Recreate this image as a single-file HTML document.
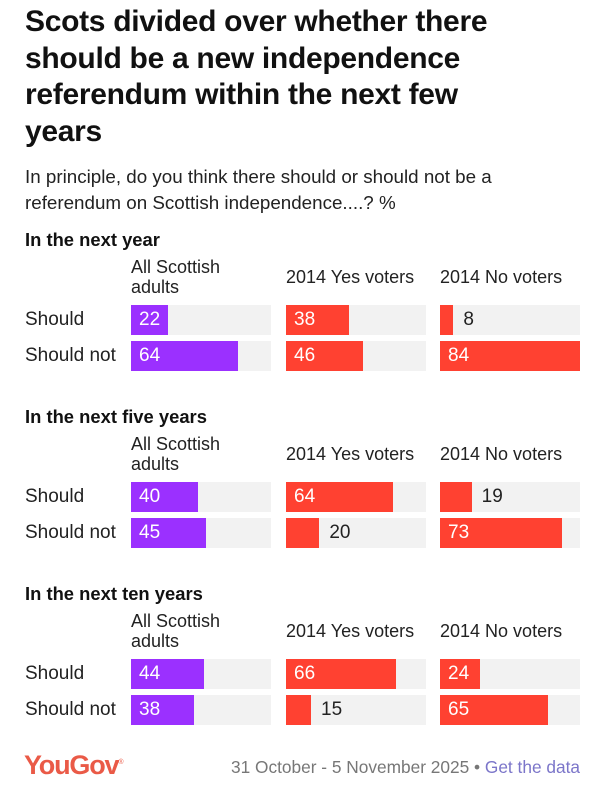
<!DOCTYPE html>
<html><head><meta charset="utf-8">
<style>
body{margin:0;background:#fff;width:605px;height:800px;overflow:hidden;font-family:"Liberation Sans",sans-serif;position:relative}
.t{position:absolute;white-space:nowrap}
</style></head><body>
<div class="t" style="left:25px;top:4px;font-size:30px;font-weight:bold;line-height:36.5px;color:#111;letter-spacing:-0.3px">Scots divided over whether there<br>should be a new independence<br>referendum within the next few<br>years</div>
<div class="t" style="left:25px;top:164px;font-size:18.8px;line-height:26px;color:#222">In principle, do you think there should or should not be a<br>referendum on Scottish independence....? %</div>
<div id="chart"></div>
<div class="t" style="left:24px;top:750px;font-size:27px;font-weight:bold;color:#ea5a47;letter-spacing:-1.2px">YouGov<sup style="font-size:7px;font-weight:normal">®</sup></div>
<div class="t" style="right:25px;top:757px;font-size:17.3px;color:#777">31 October - 5 November 2025 • <span style="color:#7b75c9">Get the data</span></div>
<script>
const sections=["In the next year","In the next five years","In the next ten years"];
const groups=["All Scottish adults","2014 Yes voters","2014 No voters"];
const rows=["Should","Should not"];
const allAdults=[[22,64],[40,45],[44,38]];
const yesVoters=[[38,46],[64,20],[66,15]];
const noVoters=[[8,84],[19,73],[24,65]];
const series=[allAdults,yesVoters,noVoters];
const colors=["#9b30ff","#ff4131","#ff4131"];
const colX=[131,286,440], trackW=140, maxV=84;
const xs=v=>v/maxV*trackW;
const root=document.getElementById('chart');
function mk(name,css,txt){const d=document.createElement('div');d.className='t';d.style.cssText=css;if(txt!=null)d.textContent=txt;

root.appendChild(d);return d;}
sections.forEach((s,si)=>{
 const y0=230+si*177;
 mk('section-heading','left:25px;top:'+(y0-1)+'px;font-size:18.4px;font-weight:bold;color:#111',s);
 groups.forEach((g,gi)=>{
  const two=gi===0;
  const h=mk('column-header','left:'+colX[gi]+'px;top:'+(y0+(two?27:37))+'px;font-size:18px;line-height:20px;color:#222','');
  h.innerHTML=two?'All Scottish<br>adults':g;
 });
 rows.forEach((r,ri)=>{
  const by=y0+75+ri*36;
  mk('row-label','left:25px;top:'+(by+4)+'px;font-size:19px;color:#222',r);
  series.forEach((ser,gi)=>{
   const v=ser[si][ri];
   mk('bar-track','left:'+colX[gi]+'px;top:'+by+'px;width:'+trackW+'px;height:30px;background:#f2f2f2');
   const w=xs(v);
   mk('bar','left:'+colX[gi]+'px;top:'+by+'px;width:'+w+'px;height:30px;background:'+colors[gi]);
   const inside=w>36;
   mk('bar-value','left:'+(inside?colX[gi]+8:colX[gi]+w+10)+'px;top:'+(by+4)+'px;font-size:19px;color:'+(inside?'#fff':'#222'),String(v));
  });
 });
});
</script>
</body></html>
